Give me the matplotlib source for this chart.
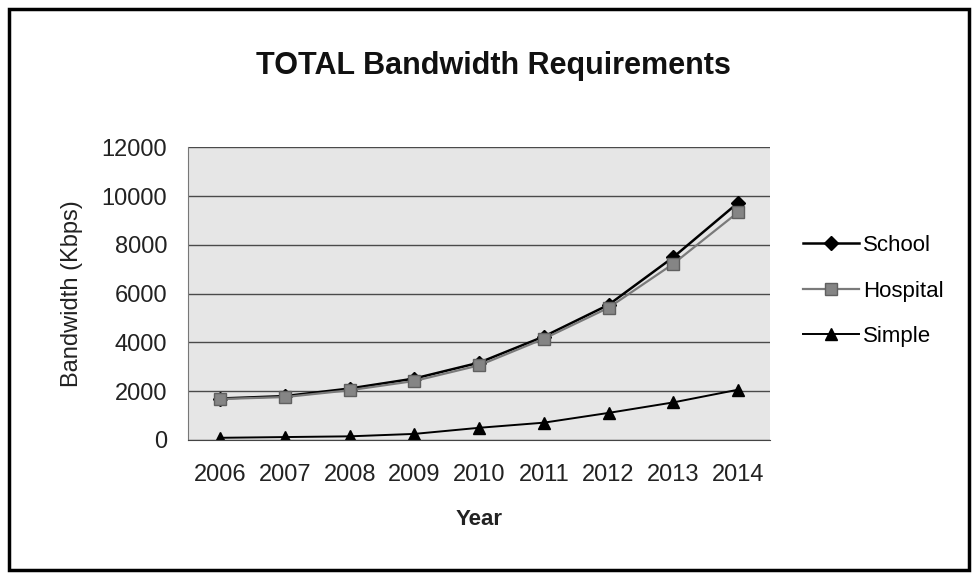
import matplotlib.pyplot as plt
from matplotlib.patches import Rectangle
from matplotlib.ticker import MultipleLocator

plt.rcParams['font.family'] = ['Liberation Sans', 'DejaVu Sans']

years = ['2006', '2007', '2008', '2009', '2010', '2011', '2012', '2013', '2014']
school = [1700, 1800, 2110, 2520, 3170, 4240, 5540, 7490, 9720]
hospital = [1680, 1760, 2040, 2420, 3060, 4150, 5420, 7220, 9330]
simple = [90, 120, 150, 250, 500, 710, 1110, 1540, 2060]

fig = plt.figure(figsize=(9.77, 5.82), dpi=100)
ax = fig.add_axes([0.1924, 0.244, 0.596, 0.503])

x = list(range(len(years)))

# plot area background and grid
ax.set_facecolor('#e6e6e6')
ax.yaxis.set_major_locator(MultipleLocator(2000))
ax.grid(axis='y', color='#4a4a4a', linewidth=1.0)
ax.set_axisbelow(True)

ax.plot(x, school, color='black', linewidth=1.8, marker='D', markersize=7,
        label='School')
ax.plot(x, hospital, color='#7a7a7a', linewidth=1.6, marker='s', markersize=8,
        markerfacecolor='#858585', markeredgecolor='#606060', label='Hospital')
ax.plot(x, simple, color='black', linewidth=1.4, marker='^', markersize=9,
        label='Simple')

ax.set_xlim(-0.5, len(years) - 0.5)
ax.set_ylim(0, 12000)
ax.set_xticks(x)
ax.set_xticklabels(years)
ax.tick_params(axis='both', labelsize=17, colors='#222222', length=0)
ax.tick_params(axis='y', pad=15)
ax.tick_params(axis='x', pad=17)

for side in ['top', 'right']:
    ax.spines[side].set_visible(False)
ax.spines['left'].set_color('#777777')
ax.spines['bottom'].set_color('#444444')

ax.set_xlabel('Year', fontsize=16, fontweight='bold', labelpad=17, color='#222222')
ax.set_ylabel('Bandwidth (Kbps)', fontsize=17, labelpad=13, color='#222222')

# giving a title
fig.text(0.505, 0.887, 'TOTAL Bandwidth Requirements', ha='center', va='center',
         fontsize=22, fontweight='bold', color='#111111')

leg = fig.legend(loc='center left', bbox_to_anchor=(0.822, 0.500), frameon=False,
                 fontsize=16, handlelength=2.5, handletextpad=0.2,
                 labelspacing=1.1, borderpad=0, borderaxespad=0)

# outer border of the chart
fig.patches.append(Rectangle((0.009, 0.02), 0.983, 0.965, transform=fig.transFigure,
                             fill=False, edgecolor='black', linewidth=2.5))

fig.savefig('out.png', dpi=100)
